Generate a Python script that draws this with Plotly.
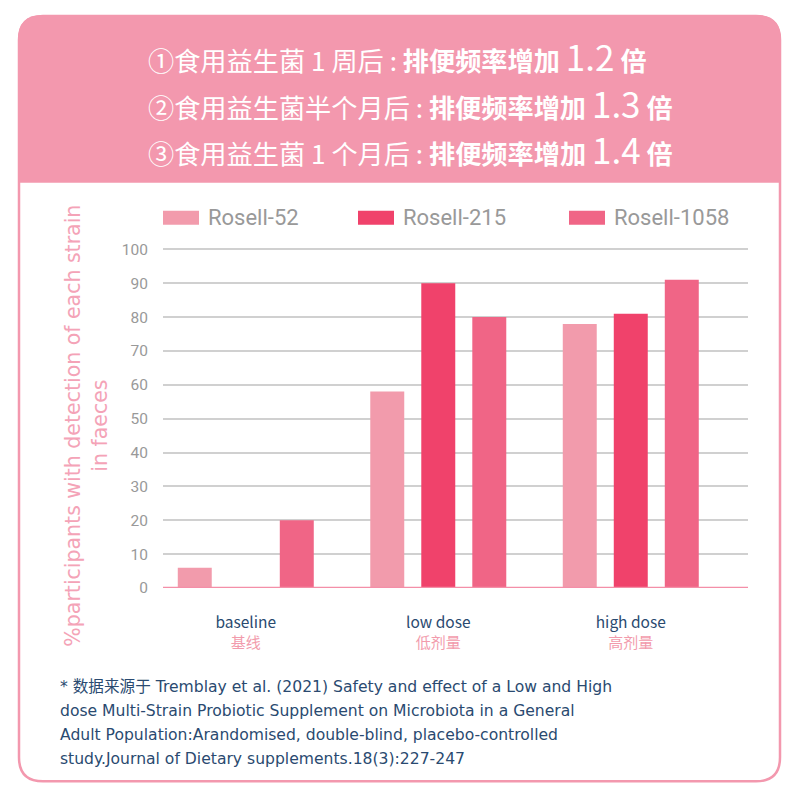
import plotly.graph_objects as go

# ---------------- data ----------------
categories = ["baseline", "low dose", "high dose"]
categories_cn = ["基线", "低剂量", "高剂量"]
series_names = ["Rosell-52", "Rosell-215", "Rosell-1058"]
rosell_52 = [6, 58, 78]
rosell_215 = [0, 90, 81]
rosell_1058 = [20, 80, 91]
series_values = [rosell_52, rosell_215, rosell_1058]
y_ticks = [0, 10, 20, 30, 40, 50, 60, 70, 80, 90, 100]

header_lines = [
    ("①食用益生菌 1 周后 : ", "排便频率增加 ", "1.2", " 倍"),
    ("②食用益生菌半个月后 : ", "排便频率增加 ", "1.3", " 倍"),
    ("③食用益生菌 1 个月后 : ", "排便频率增加 ", "1.4", " 倍"),
]
footnote_lines = [
    "* 数据来源于 Tremblay et al. (2021) Safety and effect of a Low and High",
    "dose Multi-Strain Probiotic Supplement on Microbiota in a General",
    "Adult Population:Arandomised, double-blind, placebo-controlled",
    "study.Journal of Dietary supplements.18(3):227-247",
]
y_title_lines = ["%participants with detection of each strain", "in faeces"]

# ---------------- styles ----------------
colors = ["#F29BAC", "#F0426B", "#F06586"]
PINK = "#F398AE"
NAVY = "#2A4A70"
GRAY = "#999999"
FONT = "Noto Sans CJK SC, Noto Sans, sans-serif"
LATIN = "Roboto, Noto Sans, sans-serif"
WIDE = "DejaVu Sans, Noto Sans CJK SC, sans-serif"

W, H = 800, 800
OFF = 8  # page body margin

# plot area in screenshot pixels
plot_l, plot_r = 163, 748
plot_b = 588.5
unit = 3.389
ymax = 101
plot_t = plot_b - ymax * unit

def px(x):
    return (x - plot_l) / (plot_r - plot_l)
def py(y):
    return (plot_b - y) / (plot_b - plot_t)

fig = go.Figure()
for name, vals, col in zip(series_names, series_values, colors):
    fig.add_trace(go.Bar(x=categories, y=vals, name=name, marker_color=col,
                         marker_line_width=0, showlegend=False))

ticktext = [f"{en}<br><span style='color:{colors[0]};font-size:15px'>{cn}</span>"
            for en, cn in zip(categories, categories_cn)]

fig.update_layout(
    width=W, height=H,
    margin=dict(l=plot_l - OFF, r=W - (plot_r - OFF), t=plot_t - OFF,
                b=H - (plot_b - OFF), pad=0, autoexpand=False),
    paper_bgcolor="white", plot_bgcolor="rgba(0,0,0,0)",
    barmode="group", bargap=0.205, bargroupgap=0.334,
    font=dict(family=FONT),
    xaxis=dict(type="category", range=[-0.43, 2.609], showgrid=False,
               tickmode="array", tickvals=categories, ticktext=ticktext,
               tickfont=dict(size=15.5, color=NAVY), ticks="",
               showline=False, zeroline=False, ticklabelstandoff=23,
               automargin=False),
    yaxis=dict(range=[0, ymax], tickvals=y_ticks, showgrid=True,
               gridcolor="#D0D0D0", gridwidth=1.5, zeroline=False,
               tickfont=dict(size=15.5, color=GRAY, family=LATIN), ticks="",
               ticklabelstandoff=14, showline=False, automargin=False),
    showlegend=False,
)

# x axis baseline (pink)
fig.add_shape(type="line", xref="paper", yref="y", x0=0, x1=1, y0=0, y1=0,
              line=dict(color="#F48FA8", width=2.5), layer="above")

# ---------------- card background ----------------
L, R, T, B, r = 19, 780, 16, 782, 24
def card_path(l, t, rr, b, rad, bottom_round=True):
    X = px
    Y = py
    p = (f"M {X(l)},{Y(t+rad)} Q {X(l)},{Y(t)} {X(l+rad)},{Y(t)} "
         f"L {X(rr-rad)},{Y(t)} Q {X(rr)},{Y(t)} {X(rr)},{Y(t+rad)} ")
    if bottom_round:
        p += (f"L {X(rr)},{Y(b-rad)} Q {X(rr)},{Y(b)} {X(rr-rad)},{Y(b)} "
              f"L {X(l+rad)},{Y(b)} Q {X(l)},{Y(b)} {X(l)},{Y(b-rad)} Z")
    else:
        p += f"L {X(rr)},{Y(b)} L {X(l)},{Y(b)} Z"
    return p

fig.add_shape(type="path", xref="paper", yref="paper", path=card_path(L, T, R, B, r),
              fillcolor="white", line=dict(color=PINK, width=2.5), layer="below")
fig.add_shape(type="path", xref="paper", yref="paper",
              path=card_path(L - 1, T - 1, R + 1, 183, r + 1, bottom_round=False),
              fillcolor=PINK, line=dict(width=0), layer="below")

# ---------------- header text ----------------
for i, (a, b, num, c) in enumerate(header_lines):
    txt = (f"{a}<b>{b}</b><span style='font-size:35px'>{num}</span><b>{c}</b>")
    fig.add_annotation(x=px(146), y=py(56 + i * 46.5), xref="paper", yref="paper",
                       xanchor="left", yanchor="middle", showarrow=False, text=txt,
                       font=dict(size=26.2, color="white", family=FONT))

# ---------------- legend (manual) ----------------
leg_x = [163, 358, 569]
for name, col, lx in zip(series_names, colors, leg_x):
    fig.add_shape(type="rect", xref="paper", yref="paper",
                  x0=px(lx), x1=px(lx + 36), y0=py(225), y1=py(211),
                  fillcolor=col, line=dict(width=0))
    fig.add_annotation(x=px(lx + 43), y=py(218), xref="paper", yref="paper",
                       xanchor="left", yanchor="middle", showarrow=False, text=name,
                       font=dict(size=22, color=GRAY, family=LATIN))

# ---------------- y axis title ----------------
for j, line in enumerate(y_title_lines):
    fig.add_annotation(x=px(73 + j * 27), y=py(426), xref="paper", yref="paper",
                       xanchor="center", yanchor="middle", showarrow=False,
                       textangle=-90, text=line,
                       font=dict(size=20.5, color="#F4A3B7", family=WIDE))

# ---------------- footnote ----------------
for k, line in enumerate(footnote_lines):
    fig.add_annotation(x=px(58), y=py(688 + k * 24), xref="paper", yref="paper",
                       xanchor="left", yanchor="middle", showarrow=False, text=line,
                       font=dict(size=15.6, color=NAVY, family=WIDE))

fig.write_html("out.html")
